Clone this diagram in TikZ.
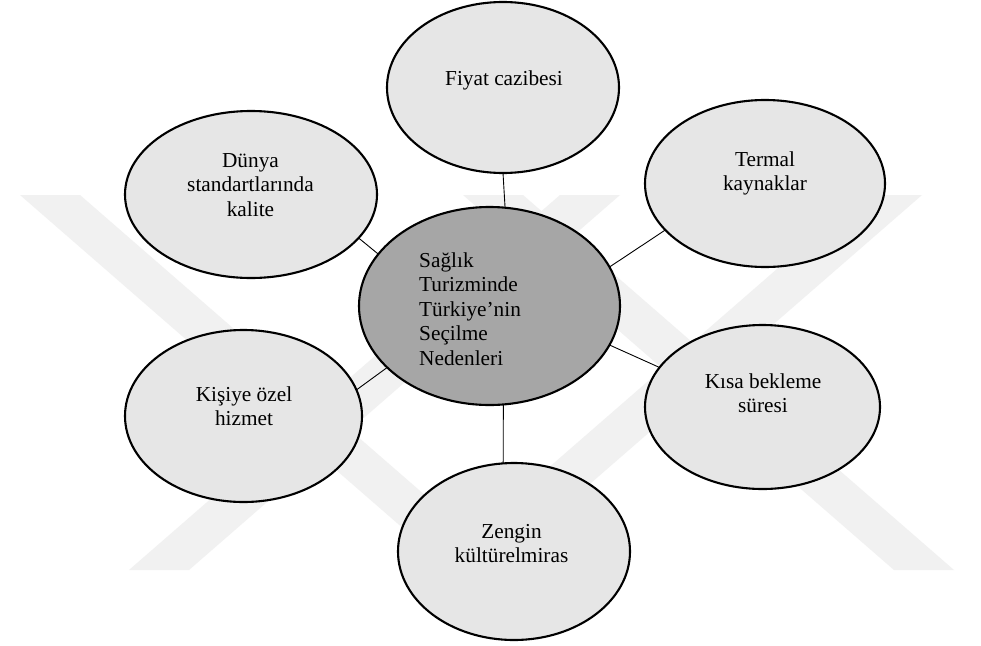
\documentclass[tikz,border=0pt]{standalone}
\usepackage{fontspec}
\setmainfont{Liberation Serif}
\usetikzlibrary{shapes.geometric}
\definecolor{outerfill}{HTML}{E6E6E6}
\definecolor{hubfill}{HTML}{A6A6A6}
\definecolor{wmgray}{HTML}{F1F1F1}
\begin{document}
\begin{tikzpicture}[x=1pt,y=-1pt,
  bubble/.style={ellipse, draw=black, line width=2.1pt, fill=outerfill, inner sep=0pt, outer sep=0pt},
  hub/.style={bubble, fill=hubfill},
  lbl/.style={align=center, font=\fontsize{21.3}{24.5}\selectfont, inner sep=0pt, anchor=base},
  hublbl/.style={lbl, align=left, anchor=base west},
  link/.style={line width=0.9pt, draw=black},
  wm/.style={fill=wmgray, draw=none}]
\useasboundingbox (0,0) rectangle (981,645);
\fill[white] (0,0) rectangle (981,645);
% watermark bands
\fill[wm] (20,195) -- (80,195) -- (511,570) -- (451,570) -- cycle;
\fill[wm] (560,195) -- (620,195) -- (189,570) -- (129,570) -- cycle;
\fill[wm] (463,195) -- (523,195) -- (954,570) -- (894,570) -- cycle;
\fill[wm] (862,195) -- (922,195) -- (491,570) -- (431,570) -- cycle;
% ellipses
\node[hub, minimum width=261pt, minimum height=198pt] (hub) at (489.5,306) {};
\node[bubble, minimum width=232pt, minimum height=171pt] (fiyat) at (503,87.5) {};
\node[bubble, minimum width=252pt, minimum height=167pt] (dunya) at (251,194.5) {};
\node[bubble, minimum width=240pt, minimum height=167pt] (termal) at (765,183.5) {};
\node[bubble, minimum width=237pt, minimum height=172pt] (kisiye) at (243.5,416) {};
\node[bubble, minimum width=235pt, minimum height=164pt] (kisa) at (762.5,407) {};
\node[bubble, minimum width=232pt, minimum height=177pt] (zengin) at (514,551.5) {};
% labels (anchor = baseline of last line)
\node[lbl] (fiyat-t) at (504,85) {Fiyat cazibesi};
\node[lbl] (dunya-t) at (250.5,216) {Dünya\\standartlarında\\kalite};
\node[lbl] (termal-t) at (765,190.5) {Termal\\kaynaklar};
\node[lbl] (kisiye-t) at (244,425.7) {Kişiye özel\\hizmet};
\node[lbl] (kisa-t) at (763,412.7) {Kısa bekleme\\süresi};
\node[lbl] (zengin-t) at (511.5,562.7) {Zengin\\kültürelmiras};
\node[hublbl] (hub-t) at (419,365) {Sağlık\\Turizminde\\Türkiye’nin\\Seçilme\\Nedenleri};
% connectors
\draw[link] (fiyat.270) -- (hub.81);
\draw[link] (dunya.338) -- (hub.155.5);
\draw[link] (termal.205) -- (hub.18);
\draw[link] (kisa.159) -- (hub.342);
\draw[link] (kisiye.13) -- (hub.211.6);
\draw[link] (zengin.97) -- (hub.278);
\end{tikzpicture}
\end{document}
